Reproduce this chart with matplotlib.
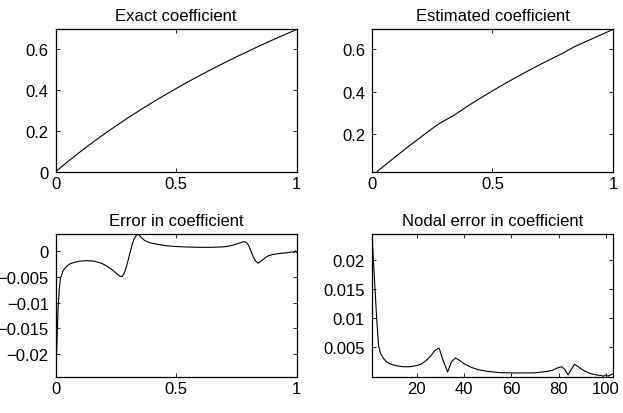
import numpy as np
import matplotlib
matplotlib.use("Agg")
import matplotlib.pyplot as plt
from matplotlib.ticker import FuncFormatter

# exact coefficient
x_exact = [0, 0.05, 0.1, 0.15, 0.2, 0.25, 0.3, 0.35, 0.4, 0.45, 0.5,
           0.55, 0.6, 0.65, 0.7, 0.75, 0.8, 0.85, 0.9, 0.95, 1.0]
exact = [0, 0.0488, 0.0953, 0.1398, 0.1823, 0.2231, 0.2624, 0.3001, 0.3365,
         0.3716, 0.4055, 0.4383, 0.4700, 0.5008, 0.5306, 0.5596, 0.5878,
         0.6152, 0.6419, 0.6678, 0.6931]

# estimated coefficient (top-right panel)
x_est = [0.02, 0.05, 0.1, 0.15, 0.2, 0.25, 0.275, 0.3, 0.34, 0.4, 0.45, 0.5,
         0.55, 0.6, 0.65, 0.7, 0.75, 0.79, 0.84, 0.9, 0.95, 1.0]
estimated = [0.0244, 0.0514, 0.0972, 0.1416, 0.1848, 0.2273, 0.2478, 0.2642,
             0.2894, 0.3349, 0.3704, 0.4046, 0.4375, 0.4692, 0.5000, 0.5297,
             0.5582, 0.5804, 0.6121, 0.6425, 0.6680, 0.6931]

# error in coefficient (bottom-left panel)
x_err = [0, 0.005, 0.01, 0.015, 0.02, 0.03, 0.045, 0.06, 0.08, 0.1, 0.13,
         0.16, 0.19, 0.21, 0.23, 0.25, 0.265, 0.275, 0.285, 0.295, 0.305,
         0.315, 0.325, 0.335, 0.345, 0.355, 0.37, 0.39, 0.42, 0.46, 0.5,
         0.55, 0.6, 0.65, 0.7, 0.735, 0.76, 0.78, 0.79, 0.8, 0.81, 0.82,
         0.83, 0.84, 0.85, 0.865, 0.88, 0.9, 0.93, 0.96, 0.98, 0.99, 0.995, 1.0]
err = [-0.0244, -0.018, -0.011, -0.0072, -0.0052, -0.0038, -0.0029, -0.0024,
       -0.0021, -0.0019, -0.0018, -0.0019, -0.0023, -0.0028, -0.0034, -0.0042,
       -0.0048, -0.0049, -0.0042, -0.0027, -0.0009, 0.0010, 0.0024, 0.0032,
       0.0033, 0.0027, 0.0021, 0.0017, 0.0014, 0.0011, 0.00095, 0.00085,
       0.0008, 0.0008, 0.0009, 0.0012, 0.0016, 0.0019, 0.0018, 0.0012, 0.0001,
       -0.0011, -0.0019, -0.0023, -0.0020, -0.0014, -0.0009, -0.0006, -0.0004,
       -0.00025, -0.0001, -0.0002, 0.0001, -0.0002]

# nodal error (bottom-right panel)
nodes = [1, 2, 3, 3.8, 4.6, 5.7, 7, 8.5, 11, 14, 17, 20, 22, 24, 26, 27.6,
         29.4, 31, 33, 34.7, 36.4, 38, 40, 43, 46, 50, 55, 60, 65, 70, 73,
         75, 77.5, 79.5, 81.3, 82.7, 84, 85.3, 86.7, 88, 90, 93, 96, 98, 99,
         100, 101, 102, 103]
nodal = [0.0243, 0.0170, 0.0098, 0.0052, 0.0040, 0.0032, 0.0026, 0.0022,
         0.0019, 0.0017, 0.0017, 0.0019, 0.0022, 0.0028, 0.0036, 0.0045,
         0.0049, 0.0029, 0.0008, 0.0026, 0.0032, 0.0028, 0.0022, 0.0016,
         0.0012, 0.0009, 0.0007, 0.00064, 0.00064, 0.00066, 0.0008, 0.0009,
         0.0011, 0.0015, 0.0017, 0.0012, 0.0003, 0.0012, 0.0021, 0.0018,
         0.0012, 0.0006, 0.0003, 0.0002, 0.0001, 0.0003, 0.0001, 0.0003,
         0.0005]

plt.rcParams['font.family'] = ['Liberation Sans', 'DejaVu Sans']
plt.rcParams['font.size'] = 12


def fmt(v, pos):
    s = '%g' % v
    return s.replace('-', '\u2212')


fig = plt.figure(figsize=(6.23, 4.14), dpi=100)
w, h = 0.3868, 0.3435
positions = [[0.0894, 0.5829, w, h], [0.5971, 0.5829, w, h],
             [0.0894, 0.0877, w, h], [0.5971, 0.0877, w, h]]
panels = [
    (x_exact, exact, 'Exact coefficient', (0, 1), (0, max(exact)),
     [0, 0.5, 1], [0, 0.2, 0.4, 0.6]),
    (x_est, estimated, 'Estimated coefficient', (0, 1),
     (min(estimated), max(estimated)), [0, 0.5, 1], [0.2, 0.4, 0.6]),
    (x_err, err, 'Error in coefficient', (0, 1), (min(err), max(err)),
     [0, 0.5, 1], [0, -0.005, -0.01, -0.015, -0.02]),
    (nodes, nodal, 'Nodal error in coefficient', (1, 103), (0, max(nodal)),
     [20, 40, 60, 80, 100], [0.005, 0.01, 0.015, 0.02]),
]

for pos, (xs, ys, title, xl, yl, xt, yt) in zip(positions, panels):
    ax = fig.add_axes(pos)
    ax.plot(xs, ys, color='black', linewidth=0.8)
    ax.set_xlim(xl)
    ax.set_ylim(yl)
    ax.set_xticks(xt)
    ax.set_yticks(yt)
    ax.xaxis.set_major_formatter(FuncFormatter(fmt))
    ax.yaxis.set_major_formatter(FuncFormatter(fmt))
    ax.tick_params(direction='in', length=3, width=0.6, top=True, right=True)
    ax.tick_params(axis='x', pad=3)
    ax.tick_params(axis='y', pad=5)
    for sp in ax.spines.values():
        sp.set_linewidth(0.9)
    ax.set_title(title, fontsize=12, pad=7)

fig.savefig('out.png', dpi=100)
